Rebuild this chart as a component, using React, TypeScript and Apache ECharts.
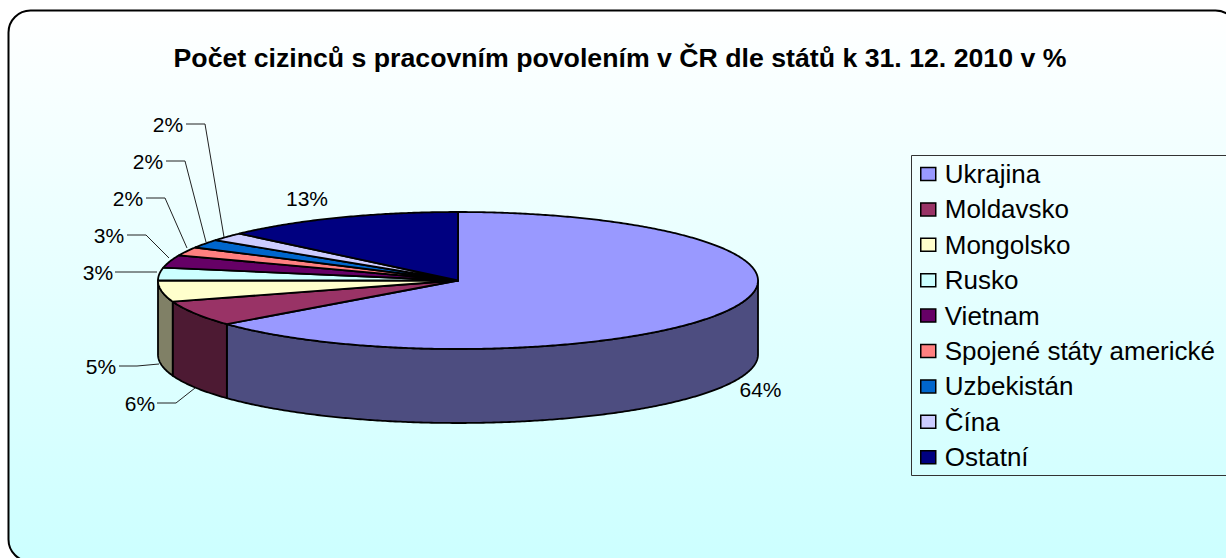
import React, { useEffect, useRef } from "react";
import * as echarts from "echarts";

const TITLE = "Počet cizinců s pracovním povolením v ČR dle států k 31. 12. 2010 v %";
const CATEGORIES = ["Ukrajina", "Moldavsko", "Mongolsko", "Rusko", "Vietnam", "Spojené státy americké", "Uzbekistán", "Čína", "Ostatní"];
const VALUES = [64, 6, 5, 3, 3, 2, 2, 2, 13];
const TOP_COLORS = ["#9999FF", "#993366", "#FFFFCC", "#CCFFFF", "#660066", "#FF8080", "#0066CC", "#CCCCFF", "#000080"];
const SIDE_COLORS = ["#4D4D80", "#4D1A33", "#808066", "#668080", "#330033", "#804040", "#003366", "#666680", "#000040"];

// Drawing layout, not data
const FONT = '"Liberation Sans", Arial, sans-serif';
const CX = 458, CY = 280.5, RX = 300, RY = 68.5, DEPTH = 74;
const LABELS = [
  { x: 760.5, y: 389, line: [] as number[][] },
  { x: 140, y: 403, line: [[157, 403], [176, 403], [195, 388]] },
  { x: 101, y: 366, line: [[119, 366], [137, 366], [159, 364]] },
  { x: 98, y: 272, line: [[115, 272], [157, 272]] },
  { x: 109, y: 235, line: [[127, 235], [146, 235], [169, 258]] },
  { x: 128, y: 198, line: [[146, 198], [165, 198], [187, 248]] },
  { x: 148, y: 161, line: [[166, 161], [185, 161], [206, 242]] },
  { x: 168, y: 124, line: [[186, 124], [205, 124], [224, 237]] },
  { x: 307, y: 198, line: [] as number[][] },
];

const TOTAL = VALUES.reduce((a, b) => a + b, 0);
const STARTS = VALUES.map((_, i) => VALUES.slice(0, i).reduce((a, b) => a + b, 0));
const pt = (deg: number, dy = 0) => {
  const t = (deg * Math.PI) / 180;
  return [CX + RX * Math.sin(t), CY - RY * Math.cos(t) + dy];
};
const arc = (a: number, b: number, dy = 0) => {
  const out: number[][] = [];
  const n = Math.max(2, Math.ceil(b - a) * 2);
  for (let k = 0; k <= n; k++) out.push(pt(a + ((b - a) * k) / n, dy));
  return out;
};

const makeRenderItem = (i: number) => (_params: any, api: any) => {
  const value = api.value(0);
  const a = (STARTS[i] / TOTAL) * 360;
  const b = a + (value / TOTAL) * 360;
  const children: any[] = [];
  const sa = Math.max(a, 90), sb = Math.min(b, 270);
  if (sb > sa) {
    children.push({
      type: "polygon",
      shape: { points: [...arc(sa, sb), ...arc(sa, sb, DEPTH).reverse()] },
      style: { fill: SIDE_COLORS[i], stroke: "#000", lineWidth: 1.8, lineJoin: "round" },
    });
  }
  children.push({
    type: "polygon",
    shape: { points: [[CX, CY], ...arc(a, b)] },
    style: { fill: TOP_COLORS[i], stroke: "#000", lineWidth: 1.8, lineJoin: "round" },
  });
  const lab = LABELS[i];
  if (lab.line.length) {
    children.push({
      type: "polyline",
      shape: { points: lab.line },
      style: { fill: "none", stroke: "#222", lineWidth: 1 },
    });
  }
  children.push({
    type: "text",
    style: {
      text: `${value}%`, x: lab.x, y: lab.y, fill: "#000",
      font: `21px ${FONT}`, align: "center", verticalAlign: "middle",
    },
  });
  return { type: "group", children };
};

export default function App() {
  const ref = useRef<HTMLDivElement>(null);
  useEffect(() => {
    document.body.style.margin = "0";
    const chart = echarts.init(ref.current!, undefined, { renderer: "svg" });
    chart.setOption({
      animation: false,
      backgroundColor: "#fff",
      title: {
        text: TITLE, left: 615, top: 39, textAlign: "center",
        textStyle: { fontFamily: FONT, fontSize: 26.7, fontWeight: "bold", color: "#000", lineHeight: 28 },
      },
      legend: {
        orient: "vertical", left: 920, top: 161, padding: 0,
        data: CATEGORIES, icon: "rect", itemWidth: 15, itemHeight: 13, itemGap: 9.4,
        selectedMode: false,
        itemStyle: { borderColor: "#000", borderWidth: 1.5 },
        textStyle: { fontFamily: FONT, fontSize: 26, color: "#000", lineHeight: 26, padding: [0, 0, 0, 4] },
      },
      graphic: [
        {
          type: "rect", z: -10, silent: true,
          shape: { x: 8.5, y: 10.5, width: 1229, height: 551, r: 22 },
          style: {
            stroke: "#000", lineWidth: 2,
            fill: new echarts.graphic.LinearGradient(0, 0, 0, 1, [
              { offset: 0, color: "#FFFFFF" }, { offset: 1, color: "#CCFFFF" },
            ]),
          },
        },
        {
          type: "rect", z: -5, silent: true,
          shape: { x: 911.5, y: 155.5, width: 400, height: 320 },
          style: { fill: "transparent", stroke: "#333", lineWidth: 1 },
        },
      ],
      series: CATEGORIES.map((name, i) => ({
        type: "custom", name, coordinateSystem: "none", silent: true,
        itemStyle: { color: TOP_COLORS[i] },
        data: [[VALUES[i]]],
        renderItem: makeRenderItem(i),
      })),
    });
    return () => chart.dispose();
  }, []);
  return <div ref={ref} style={{ width: 1226, height: 558 }} />;
}
